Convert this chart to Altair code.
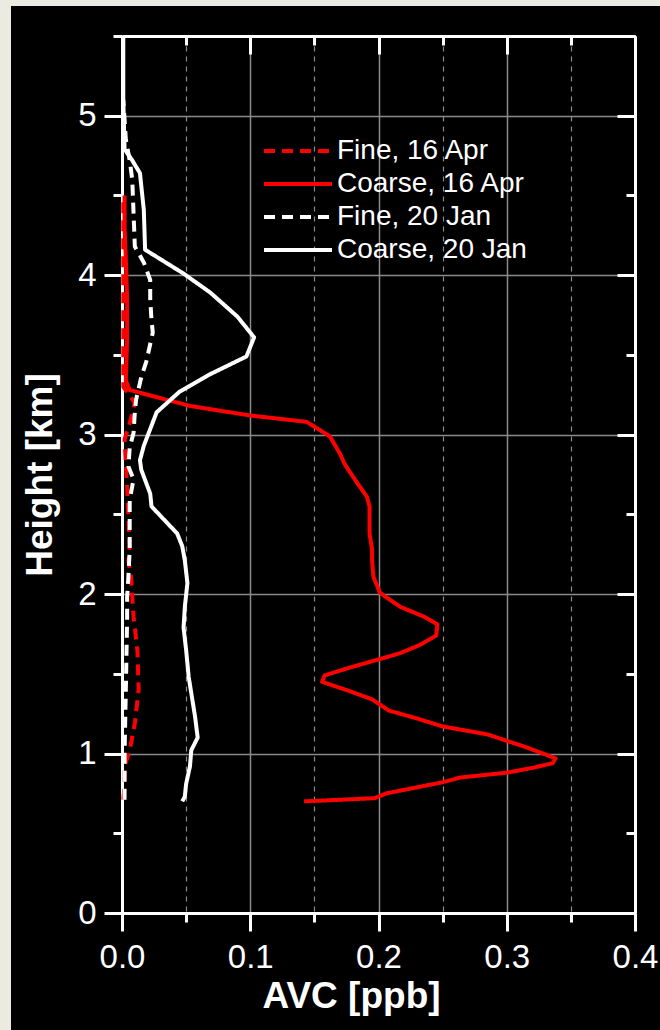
import altair as alt
import pandas as pd

# ---- profiles: AVC [ppb] against height [km] ----
fine_apr_x = [0.001, 0.002, 0.002, 0.006, 0.010, 0.013, 0.012, 0.009, 0.008, 0.007, 0.005,
              0.006, 0.004, 0.003, 0.002, 0.007, 0.010, 0.001, 0.001, 0.001, 0.001]
fine_apr_y = [0.71, 0.80, 0.92, 1.02, 1.19, 1.40, 1.65, 1.86, 1.98, 2.11, 2.21,
              2.30, 2.67, 2.82, 2.97, 3.10, 3.20, 3.30, 3.60, 4.00, 4.50]

coarse_apr_x = [0.142, 0.197, 0.206, 0.250, 0.264, 0.300, 0.320, 0.336, 0.338, 0.325, 0.315,
                0.300, 0.285, 0.264, 0.250, 0.230, 0.208, 0.195, 0.178, 0.156, 0.158,
                0.178, 0.200, 0.217, 0.232, 0.245, 0.246, 0.235, 0.217, 0.206, 0.201,
                0.196, 0.195, 0.195, 0.193, 0.193, 0.191, 0.184, 0.174, 0.170, 0.162,
                0.144, 0.100, 0.053, 0.006, 0.003, 0.004, 0.004, 0.003, 0.002, 0.002]
coarse_apr_y = [0.70, 0.72, 0.75, 0.82, 0.85, 0.88, 0.91, 0.94, 0.97, 1.01, 1.04,
                1.08, 1.12, 1.15, 1.17, 1.22, 1.27, 1.34, 1.39, 1.45, 1.49,
                1.54, 1.59, 1.63, 1.68, 1.74, 1.81, 1.86, 1.92, 1.98, 2.01,
                2.11, 2.21, 2.28, 2.38, 2.55, 2.61, 2.69, 2.81, 2.88, 2.99,
                3.08, 3.12, 3.18, 3.28, 3.34, 3.60, 3.85, 4.10, 4.30, 4.50]

fine_jan_x = [0.002, 0.002, 0.002, 0.003, 0.004, 0.004, 0.005, 0.006, 0.006, 0.009, 0.005,
              0.006, 0.009, 0.010, 0.011, 0.015, 0.019, 0.024, 0.023, 0.022, 0.022,
              0.017, 0.010, 0.009, 0.008, 0.006, 0.003, 0.001]
fine_jan_y = [0.71, 0.73, 1.00, 1.40, 1.85, 1.98, 2.11, 2.28, 2.59, 2.72, 2.80,
              2.92, 3.01, 3.14, 3.22, 3.36, 3.46, 3.64, 3.72, 3.85, 3.97,
              4.08, 4.18, 4.39, 4.60, 4.72, 4.85, 5.10]

coarse_jan_x = [0.047, 0.049, 0.050, 0.053, 0.054, 0.059, 0.057, 0.054, 0.052, 0.050, 0.048,
                0.049, 0.051, 0.049, 0.047, 0.043, 0.023, 0.022, 0.015, 0.014, 0.017,
                0.027, 0.045, 0.069, 0.097, 0.103, 0.090, 0.069, 0.048, 0.018, 0.017,
                0.014, 0.008, 0.002, 0.001, 0.001]
coarse_jan_y = [0.70, 0.73, 0.81, 0.92, 1.02, 1.10, 1.23, 1.38, 1.48, 1.65, 1.79,
                1.92, 2.07, 2.21, 2.30, 2.38, 2.55, 2.63, 2.78, 2.84, 2.93,
                3.14, 3.27, 3.38, 3.49, 3.61, 3.74, 3.89, 4.01, 4.16, 4.41,
                4.64, 4.72, 4.79, 5.10, 5.50]

series_names = ["Fine, 16 Apr", "Coarse, 16 Apr", "Fine, 20 Jan", "Coarse, 20 Jan"]
series_colors = ["#ff0000", "#ff0000", "#ffffff", "#ffffff"]
series_dashes = [[11, 7], [1, 0], [11, 7], [1, 0]]

x_major = [0.0, 0.1, 0.2, 0.3, 0.4]
x_minor = [0.05, 0.15, 0.25, 0.35]
y_major = [0, 1, 2, 3, 4, 5]
y_minor = [0.5, 1.5, 2.5, 3.5, 4.5, 5.5]

rows = []
for name, xv, yv in zip(series_names,
                        [fine_apr_x, coarse_apr_x, fine_jan_x, coarse_jan_x],
                        [fine_apr_y, coarse_apr_y, fine_jan_y, coarse_jan_y]):
    for i, (a, b) in enumerate(zip(xv, yv)):
        rows.append({"series": name, "avc": a, "height": b, "idx": i})
df = pd.DataFrame(rows)

W, H = 513, 877
FONT = "Liberation Sans"
WHITE = "#ffffff"
GRID = "#8a8a8a"

xs = alt.Scale(domain=[0, 0.4], nice=False, zero=False)
ys = alt.Scale(domain=[0, 5.5], nice=False, zero=False)

base = alt.Chart(df)


def frame_axis(values, size, orient, offset=0, domain=False):
    opts = dict(values=values, orient=orient, tickSize=size, tickWidth=3, tickColor=WHITE,
                labels=False, grid=False, title=None, domain=domain)
    if domain:
        opts.update(domainColor=WHITE, domainWidth=3)
    if offset:
        opts["offset"] = offset
    return alt.Axis(**opts)


# legend key: a long horizontal stroke (path twice the unit width)
legend_opts = dict(
    title=None, orient="none", legendX=157, legendY=96,
    symbolType="M-2,0H2", symbolSize=1156, symbolStrokeWidth=4,
    labelFont=FONT, labelFontSize=28, labelColor=WHITE, labelOffset=20, labelLimit=400,
    rowPadding=0, padding=0,
)

lines = base.mark_line(strokeWidth=4, strokeCap="butt", strokeJoin="round").encode(
    x=alt.X("avc:Q", scale=xs, axis=alt.Axis(
        values=x_major, format=".1f", orient="bottom",
        domainColor=WHITE, domainWidth=3,
        tickColor=WHITE, tickWidth=3, tickSize=18,
        labelColor=WHITE, labelFont=FONT, labelFontSize=33, labelPadding=10, labelFlush=False,
        title="AVC [ppb]", titleFont=FONT, titleFontSize=37, titleFontWeight="bold",
        titleColor=WHITE, titlePadding=4, titleX=229,
        grid=True, gridColor=GRID, gridWidth=1.5)),
    y=alt.Y("height:Q", scale=ys, axis=alt.Axis(
        values=y_major, format="d", orient="left",
        domainColor=WHITE, domainWidth=3,
        tickColor=WHITE, tickWidth=3, tickSize=18,
        labelColor=WHITE, labelFont=FONT, labelFontSize=33, labelPadding=8,
        title="Height [km]", titleFont=FONT, titleFontSize=37, titleFontWeight="bold",
        titleColor=WHITE, titlePadding=18,
        grid=True, gridColor=GRID, gridWidth=1.5)),
    color=alt.Color("series:N", scale=alt.Scale(domain=series_names, range=series_colors),
                    legend=alt.Legend(**legend_opts)),
    strokeDash=alt.StrokeDash("series:N", scale=alt.Scale(domain=series_names, range=series_dashes),
                              legend=alt.Legend(**legend_opts)),
    order=alt.Order("idx:Q"),
)

# minor ticks on the bottom/left, with dashed minor grid
minor = base.mark_point(opacity=0).encode(
    x=alt.X("avc:Q", scale=xs, axis=alt.Axis(
        values=x_minor, orient="bottom", tickSize=9, tickWidth=3, tickColor=WHITE,
        labels=False, domain=False, title=None,
        grid=True, gridColor=GRID, gridWidth=1.2, gridDash=[5, 5])),
    y=alt.Y("height:Q", scale=ys, axis=frame_axis(y_minor, 9, "left")),
)

# mirrored frame on top/right with inward ticks
top_right_major = base.mark_point(opacity=0).encode(
    x=alt.X("avc:Q", scale=xs, axis=frame_axis(x_major, 18, "bottom", offset=-H, domain=True)),
    y=alt.Y("height:Q", scale=ys, axis=frame_axis(y_major, 18, "left", offset=-W, domain=True)),
)
top_right_minor = base.mark_point(opacity=0).encode(
    x=alt.X("avc:Q", scale=xs, axis=frame_axis(x_minor, 9, "bottom", offset=-H)),
    y=alt.Y("height:Q", scale=ys, axis=frame_axis(y_minor, 9, "left", offset=-W)),
)

# pale page margin along the left and top edges
edge = alt.Chart(pd.DataFrame({"k": [0]}))
left_strip = edge.mark_rect(color="#ecebe1").encode(
    x=alt.value(-122), x2=alt.value(-111), y=alt.value(-36), y2=alt.value(994))
top_strip = edge.mark_rect(color="#ecebe1").encode(
    x=alt.value(-122), x2=alt.value(538), y=alt.value(-36), y2=alt.value(-30))

chart = alt.layer(
    minor, top_right_major, top_right_minor, lines, left_strip, top_strip
).resolve_axis(x="independent", y="independent").properties(
    width=W, height=H,
    background="black",
    padding={"left": 122, "top": 36, "right": 25, "bottom": 117},
    autosize=alt.AutoSizeParams(type="none"),
).configure_view(stroke=None)

chart.save("out.html", embed_options={"renderer": "svg", "actions": False})
